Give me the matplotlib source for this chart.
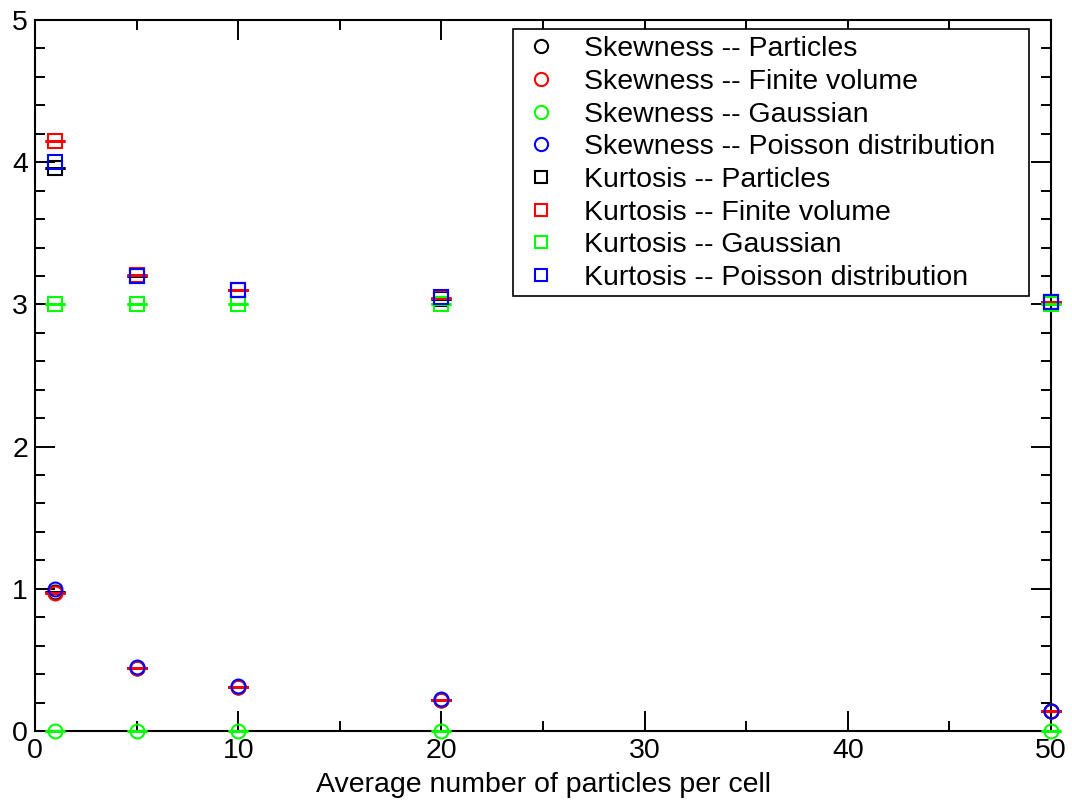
import matplotlib
matplotlib.use("Agg")
import matplotlib.pyplot as plt
from matplotlib.lines import Line2D
from matplotlib.patches import Rectangle
from matplotlib.ticker import MultipleLocator

plt.rcParams['font.family'] = ['Liberation Sans', 'DejaVu Sans']

x = [1, 5, 10, 20, 50]

skew_particles = [0.98, 0.445, 0.31, 0.22, 0.14]
skew_finite = [0.97, 0.445, 0.31, 0.22, 0.14]
skew_gauss = [0.0, 0.0, 0.0, 0.0, 0.0]
skew_poisson = [1.0, 0.447, 0.316, 0.224, 0.141]

kurt_particles = [3.96, 3.2, 3.1, 3.04, 3.02]
kurt_finite = [4.15, 3.21, 3.1, 3.045, 3.02]
kurt_gauss = [3.0, 3.0, 3.0, 3.0, 3.0]
kurt_poisson = [4.0, 3.2, 3.1, 3.05, 3.02]

labels = [
    "Skewness -- Particles",
    "Skewness -- Finite volume",
    "Skewness -- Gaussian",
    "Skewness -- Poisson distribution",
    "Kurtosis -- Particles",
    "Kurtosis -- Finite volume",
    "Kurtosis -- Gaussian",
    "Kurtosis -- Poisson distribution",
]
series = [skew_particles, skew_finite, skew_gauss, skew_poisson,
          kurt_particles, kurt_finite, kurt_gauss, kurt_poisson]
colors = ['#000000', '#ff0000', '#00ff00', '#0000ff'] * 2
markers = ['o'] * 4 + ['s'] * 4
has_err = [True, True, True, False] * 2

FS = 20.5
W, H = 1072, 802

fig = plt.figure(figsize=(W / 100, H / 100), dpi=100)
ax = fig.add_axes([35 / W, 1 - 731 / H, 1016 / W, 711 / H])

ms = 10
mew = 1.5
for i, (ys, c, m, e) in enumerate(zip(series, colors, markers, has_err)):
    z = 3 + i * 0.1
    if e:
        ax.errorbar(x, ys, yerr=[0.0] * len(ys), fmt='none', ecolor=c,
                    elinewidth=1.5, capsize=7.5, capthick=2.0, zorder=z,
                    clip_on=False)
    ax.plot(x, ys, linestyle='none', marker=m,
            markersize=ms if m == 'o' else ms - 0.5,
            markerfacecolor='none', markeredgecolor=c, markeredgewidth=mew,
            zorder=z + 0.05, clip_on=False)

ax.set_xlim(0, 50)
ax.set_ylim(0, 5)
ax.xaxis.set_major_locator(MultipleLocator(10))
ax.xaxis.set_minor_locator(MultipleLocator(5))
ax.yaxis.set_major_locator(MultipleLocator(1))
ax.yaxis.set_minor_locator(MultipleLocator(0.2))
ax.tick_params(which='both', direction='in', top=True, right=True,
               width=1.4, colors='black')
ax.tick_params(which='major', length=14.5, labelsize=FS, pad=5)
ax.tick_params(which='minor', length=7.2)
for s in ax.spines.values():
    s.set_linewidth(1.5)

ax.set_xlabel("Average number of particles per cell", fontsize=FS, labelpad=6)

# legend frame drawn as a figure rectangle
fig.patches.append(Rectangle((513 / W, 1 - 296 / H), (1029 - 513) / W, (296 - 29) / H,
                             transform=fig.transFigure, facecolor='white',
                             edgecolor='black', linewidth=1.2, zorder=10))

handles = [Line2D([], [], linestyle='none', marker=m,
                  markersize=(9.5 if m == 'o' else 9), markerfacecolor='none',
                  markeredgecolor=c, markeredgewidth=1.5)
           for m, c in zip(markers, colors)]
leg = fig.legend(handles, labels, loc='upper left',
                 bbox_to_anchor=(513 / W, 1 - 29 / H),
                 fontsize=FS, frameon=False,
                 borderpad=0.25, labelspacing=0.235, handlelength=1.5,
                 handletextpad=0.74, borderaxespad=0.0)
leg.set_zorder(11)

fig.savefig("out.png", dpi=100)
